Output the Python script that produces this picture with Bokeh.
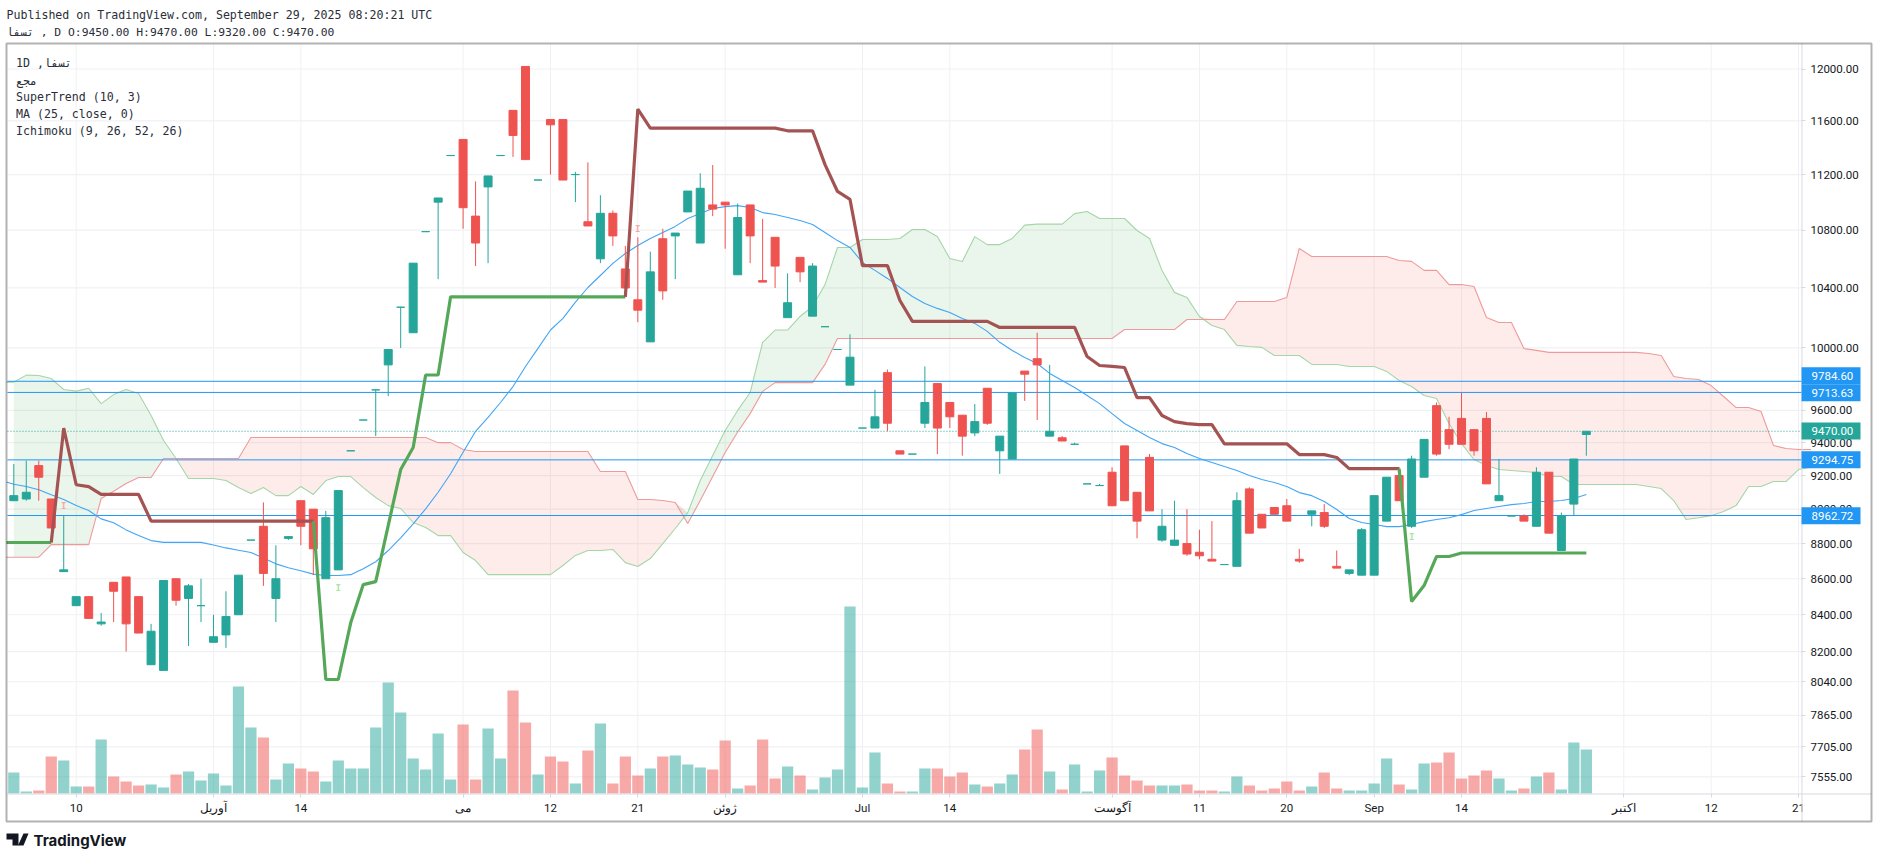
import numpy as np
from bokeh.core.properties import value
from bokeh.embed import file_html
from bokeh.models import (BoxAnnotation, FixedTicker, Label, LinearAxis, LinearScale, LogAxis,
                          NumeralTickFormatter, PolyAnnotation, Range1d)
from bokeh.plotting import figure
from bokeh.resources import INLINE

# candles, one per session (index 0 is the first bar on the left)
opens = [9050, 9060, 9260, 9060, 8640, 8450, 8500, 8350, 8580, 8610,
         8500, 8130, 8100, 8600, 8490, 8450, 8250, 8290, 8400, 8820,
         8900, 8490, 8830, 9050, 9000, 8600, 8650, 9350, 9540, 9730,
         9890, 10270, 10100, 10790, 11000, 11340, 11460, 10900, 11110, 11340,
         11680, 12020, 11160, 11610, 11610, 11200, 10860, 10600, 10920, 10530,
         10320, 10040, 10740, 10760, 10930, 10710, 10980, 11000, 10490, 10980,
         10450, 10750, 10200, 10610, 10210, 10140, 9990, 9760, 9490, 9490,
         9840, 9350, 9330, 9520, 9770, 9650, 9570, 9460, 9740, 9350,
         9300, 9850, 9930, 9440, 9430, 9390, 9150, 9140, 9220, 9380,
         9100, 9310, 8820, 8790, 8800, 8750, 8710, 8680, 8670, 9120,
         8970, 9010, 9020, 8710, 8970, 8980, 8670, 8630, 8620, 8620,
         8930, 9200, 8900, 9190, 9630, 9480, 9550, 9480, 9550, 9050,
         8960, 8960, 8900, 9220, 8760, 9030, 9450]
highs = [9270, 9290, 9290, 9060, 8960, 8500, 8500, 8410, 8580, 8610,
         8500, 8350, 8590, 8600, 8570, 8600, 8400, 8530, 8620, 8820,
         9040, 8790, 8840, 9050, 9000, 8990, 9110, 9350, 9540, 9730,
         9990, 10270, 10570, 10790, 11030, 11340, 11460, 11150, 11190, 11340,
         11680, 12020, 11160, 11610, 11610, 11220, 11290, 11050, 10940, 10690,
         10750, 10650, 10810, 10780, 11080, 11210, 11270, 11000, 10990, 10980,
         10880, 10750, 10500, 10610, 10570, 10140, 9990, 10090, 9490, 9730,
         9860, 9350, 9330, 9880, 9770, 9650, 9570, 9640, 9740, 9440,
         9710, 9850, 10100, 9890, 9440, 9400, 9150, 9150, 9250, 9380,
         9100, 9330, 9000, 9050, 9000, 8880, 8930, 8680, 9100, 9130,
         8970, 9010, 9060, 8770, 8990, 9030, 8760, 8650, 8890, 9080,
         9190, 9250, 9320, 9420, 9650, 9560, 9710, 9480, 9590, 9300,
         8960, 8970, 9250, 9220, 8980, 9300, 9470]
lows = [9050, 9050, 9050, 8890, 8640, 8450, 8380, 8340, 8360, 8200,
        8300, 8130, 8100, 8450, 8230, 8360, 8250, 8220, 8400, 8820,
        8560, 8360, 8820, 8790, 8620, 8600, 8650, 9350, 9540, 9440,
        9690, 10000, 10100, 10790, 10460, 11340, 10810, 10550, 10570, 11340,
        11330, 11310, 11160, 11200, 11160, 11000, 10830, 10570, 10690, 10400,
        10170, 10040, 10320, 10460, 10930, 10710, 10900, 10670, 10490, 10570,
        10440, 10400, 10200, 10440, 10210, 10140, 9990, 9760, 9490, 9490,
        9470, 9330, 9330, 9490, 9330, 9490, 9320, 9440, 9510, 9210,
        9300, 9660, 9540, 9440, 9410, 9390, 9150, 9140, 9020, 9050,
        8830, 8990, 8810, 8790, 8730, 8710, 8700, 8680, 8670, 8860,
        8890, 8970, 8930, 8690, 8900, 8890, 8660, 8620, 8620, 8620,
        8930, 9050, 8890, 9190, 9320, 9360, 9390, 9320, 9150, 9050,
        8960, 8930, 8900, 8860, 8760, 8960, 9320]
closes = [9080, 9100, 9190, 8890, 8650, 8500, 8380, 8360, 8530, 8350,
          8300, 8310, 8590, 8480, 8560, 8450, 8280, 8390, 8620, 8820,
          8630, 8600, 8840, 8900, 8770, 8950, 9110, 9350, 9540, 9730,
          9990, 10270, 10570, 10790, 11030, 11340, 10960, 10710, 11190, 11340,
          11490, 11310, 11160, 11570, 11160, 11200, 10830, 10920, 10760, 10400,
          10250, 10510, 10380, 10780, 11080, 11100, 10950, 10980, 10890, 10760,
          10440, 10550, 10300, 10510, 10550, 10140, 9990, 9940, 9490, 9560,
          9520, 9330, 9330, 9650, 9490, 9560, 9440, 9530, 9520, 9440,
          9710, 9830, 9890, 9470, 9410, 9390, 9150, 9140, 9020, 9050,
          8930, 8990, 8900, 8820, 8740, 8730, 8700, 8680, 9050, 8860,
          8890, 8970, 8930, 8700, 8990, 8900, 8660, 8650, 8880, 9080,
          9190, 9050, 9300, 9420, 9330, 9390, 9390, 9350, 9150, 9080,
          8960, 8930, 9220, 8860, 8960, 9300, 9470]

# volume has no scale on the chart, these are relative heights
volumes = [21, 2, 3, 37, 33, 7, 7, 54, 17, 12,
           8, 9, 6, 19, 22, 13, 20, 8, 107, 66,
           56, 14, 30, 25, 22, 12, 33, 25, 25, 66,
           111, 81, 35, 24, 60, 14, 69, 14, 65, 35,
           103, 71, 19, 37, 32, 10, 43, 70, 10, 37,
           18, 25, 37, 38, 29, 26, 24, 53, 5, 8,
           54, 15, 27, 18, 4, 16, 24, 187, 6, 41,
           10, 2, 2, 25, 25, 17, 21, 9, 7, 10,
           19, 44, 64, 22, 4, 29, 2, 23, 36, 18,
           13, 8, 8, 8, 9, 3, 3, 2, 17, 8,
           3, 5, 12, 3, 7, 21, 5, 3, 3, 10,
           35, 9, 4, 30, 31, 41, 15, 18, 23, 15,
           3, 5, 17, 21, 4, 51, 44]

# these start one bar before the first candle, off the left edge
supertrend = [8806,
              8806, 8806, 8806, 8806, 9490, 9145, 9134, 9087, 9087, 9087,
              9087, 8930, 8930, 8930, 8930, 8930, 8930, 8930, 8930, 8930,
              8930, 8930, 8930, 8930, 8930, 8052, 8052, 8357, 8567, 8584,
              8904, 9236, 9370, 9825, 9825, 10340, 10340, 10340, 10340, 10340,
              10340, 10340, 10340, 10340, 10340, 10340, 10340, 10340, 10340, 10340,
              11690, 11545, 11545, 11545, 11545, 11545, 11545, 11545, 11545, 11545,
              11545, 11545, 11525, 11525, 11525, 11273, 11077, 11020, 10553, 10553,
              10553, 10315, 10175, 10175, 10175, 10175, 10175, 10175, 10175, 10135,
              10135, 10135, 10135, 10135, 10135, 10135, 9944, 9886, 9880, 9873,
              9681, 9681, 9568, 9530, 9518, 9511, 9511, 9393, 9393, 9393,
              9393, 9393, 9393, 9327, 9327, 9327, 9309, 9242, 9242, 9242,
              9242, 9242, 8473, 8562, 8726, 8726, 8746, 8746, 8746, 8746,
              8746, 8746, 8746, 8746, 8746, 8746, 8746]
# bars where the trend flips, first run is up
supertrend_flips = [3, 24, 49, 111]

ma25 = [9170,
        9148, 9134, 9115, 9085, 9057, 9021, 8992, 8943, 8920, 8879,
        8846, 8817, 8807, 8807, 8807, 8807, 8792, 8775, 8762, 8749,
        8718, 8684, 8662, 8645, 8626, 8618, 8618, 8623, 8656, 8696,
        8760, 8833, 8914, 9002, 9100, 9211, 9341, 9470, 9556, 9650,
        9751, 9880, 9997, 10118, 10195, 10304, 10403, 10485, 10568, 10637,
        10693, 10742, 10784, 10827, 10883, 10918, 10954, 10968, 10975, 10961,
        10925, 10911, 10890, 10869, 10841, 10784, 10727, 10679, 10575, 10520,
        10465, 10403, 10342, 10295, 10262, 10235, 10195, 10162, 10109, 10037,
        9984, 9938, 9899, 9835, 9790, 9745, 9694, 9643, 9580, 9518,
        9475, 9432, 9394, 9370, 9333, 9303, 9279, 9254, 9230, 9200,
        9176, 9158, 9134, 9098, 9080, 9045, 8998, 8945, 8922, 8910,
        8898, 8898, 8910, 8927, 8939, 8950, 8968, 8992, 9004, 9016,
        9027, 9033, 9045, 9045, 9051, 9063, 9087]

# cloud runs 26 bars past the last candle and off the right side of the pane
span_a = [9779,
          9779, 9824, 9822, 9802, 9732, 9722, 9740, 9643, 9700, 9732,
          9707, 9568, 9413, 9303, 9182, 9182, 9182, 9170, 9128, 9092,
          9128, 9080, 9080, 9134, 9087, 9170, 9194, 9194, 9128, 9069,
          9021, 9004, 8922, 8893, 8846, 8846, 8749, 8703, 8623, 8623,
          8623, 8623, 8623, 8623, 8675, 8732, 8760, 8760, 8766, 8691,
          8669, 8714, 8800, 8887, 8980, 9170, 9321, 9475, 9600, 9713,
          10037, 10118, 10118, 10208, 10275, 10423, 10679, 10679, 10735, 10735,
          10735, 10742, 10805, 10805, 10755, 10602, 10582, 10755, 10699, 10699,
          10742, 10836, 10843, 10843, 10843, 10918, 10933, 10883, 10883, 10883,
          10798, 10742, 10520, 10370, 10336, 10208, 10148, 10121, 10017, 10010,
          10004, 9951, 9951, 9951, 9893, 9893, 9893, 9880, 9880, 9880,
          9848, 9790, 9751, 9694, 9675, 9518, 9394, 9297, 9260, 9236,
          9230, 9224, 9218, 9194, 9194, 9146, 9146, 9146, 9146, 9146,
          9146, 9134, 9122, 9051, 8939, 8950, 8962, 8986, 9021, 9134,
          9134, 9164, 9164, 9236, 9250]
span_b = [8722,
          8722, 8722, 8722, 8794, 8794, 8794, 8794, 9063, 9106, 9152,
          9188, 9188, 9303, 9303, 9303, 9303, 9303, 9303, 9303, 9432,
          9432, 9432, 9432, 9432, 9432, 9432, 9432, 9432, 9432, 9432,
          9432, 9432, 9432, 9432, 9400, 9400, 9358, 9346, 9346, 9346,
          9346, 9346, 9346, 9346, 9346, 9346, 9346, 9224, 9224, 9224,
          9057, 9057, 9051, 9039, 8916, 9051, 9194, 9340, 9466, 9580,
          9720, 9776, 9776, 9776, 9776, 9893, 10062, 10062, 10062, 10062,
          10062, 10062, 10062, 10062, 10062, 10062, 10062, 10062, 10062, 10062,
          10062, 10062, 10062, 10062, 10062, 10062, 10062, 10062, 10062, 10121,
          10121, 10121, 10121, 10121, 10188, 10188, 10188, 10188, 10308, 10308,
          10308, 10308, 10336, 10672, 10616, 10616, 10616, 10616, 10616, 10616,
          10616, 10588, 10582, 10520, 10520, 10423, 10423, 10410, 10201, 10168,
          10168, 9996, 9984, 9971, 9971, 9971, 9971, 9971, 9971, 9971,
          9971, 9964, 9951, 9815, 9802, 9796, 9757, 9688, 9618, 9618,
          9593, 9382, 9364, 9358, 9358]

# small "I" flags from supertrend
sell_flag_bars = [4, 50]
sell_flag_prices = [9016, 10812]
buy_flag_bars = [26, 112]
buy_flag_prices = [8547, 8836]

alert_levels = [9784.60, 9713.63, 9294.75, 8962.72]
last_price = 9470.00

price_ticks = [12000, 11600, 11200, 10800, 10400, 10000, 9600, 9400, 9200, 9000,
               8800, 8600, 8400, 8200, 8040, 7865, 7705, 7555]
time_ticks = [5, 16, 23, 36, 43, 50, 57, 68, 75, 88, 95, 102, 109, 116, 129, 136, 143]
time_labels = ["10", "آوریل", "14", "می", "12", "21", "ژوئن", "Jul", "14", "آگوست",
               "11", "20", "Sep", "14", "اکتبر", "12", "21"]

header_top = "Published on TradingView.com, September 29, 2025 08:20:21 UTC"
header_ohlc = "تسفا , D O:9450.00 H:9470.00 L:9320.00 C:9470.00"
legend_lines = ["1D ,تسفا", "مجع", "SuperTrend (10, 3)", "MA (25, close, 0)", "Ichimoku (9, 26, 52, 26)"]

UP = "#26A69A"
DOWN = "#EF5350"
BLUE = "#2196F3"
GRID = "#F0F1F4"
EDGE = "#D6D9E0"
MONO = "DejaVu Sans Mono"

# the frame fills the page so text outside the price pane is not clipped,
# the pane itself runs from bar -0.50 to 143.24 and price 12194 down to 7473.6
PANE_LEFT, PANE_RIGHT = -0.505, 143.24
PANE_TOP, PANE_BOTTOM = 12194, 7473.6

bars = list(range(len(closes)))
line_bars = list(range(-1, len(closes)))
cloud_bars = list(range(-1, len(span_a) - 1))
candle_colors = [UP if c >= o else DOWN for o, c in zip(opens, closes)]

p = figure(width=1878, height=858, output_backend="svg", toolbar_location=None,
           y_axis_type="log", x_axis_location=None, y_axis_location=None,
           x_range=Range1d(-1.0657, 149.41), y_range=Range1d(7162.9, 12549.5),
           min_border=0)
p.outline_line_color = None
p.background_fill_color = "white"
p.border_fill_color = "white"
p.grid.visible = False

p.extra_y_ranges = {"volume": Range1d(-65, 793)}
p.extra_y_scales = {"volume": LinearScale()}

xaxis = LinearAxis(ticker=FixedTicker(ticks=time_ticks), major_label_overrides=dict(zip(time_ticks, time_labels)),
                   fixed_location=PANE_BOTTOM)
yaxis = LogAxis(ticker=FixedTicker(ticks=price_ticks), formatter=NumeralTickFormatter(format="0.00"),
                fixed_location=PANE_RIGHT)
p.add_layout(xaxis, "below")
p.add_layout(yaxis, "right")
for ax in [xaxis, yaxis]:
    ax.major_label_text_font = "Roboto"
    ax.major_label_text_font_size = "11.5px"
    ax.major_label_text_color = "#131722"
    ax.axis_line_color = None
    ax.major_tick_line_color = EDGE
    ax.major_tick_in = 0
    ax.major_tick_out = 4
    ax.minor_tick_line_color = None
xaxis.major_label_standoff = 3
yaxis.major_label_standoff = 5

# grid lines stop at the pane edges
p.segment(x0=[PANE_LEFT] * len(price_ticks), y0=price_ticks, x1=[PANE_RIGHT] * len(price_ticks), y1=price_ticks,
          line_color=GRID, line_width=1.2)
p.segment(x0=time_ticks, y0=[PANE_BOTTOM] * len(time_ticks), x1=time_ticks, y1=[PANE_TOP] * len(time_ticks),
          line_color=GRID, line_width=1)

# volume
p.vbar(x=bars, top=volumes, bottom=0, width=0.9, y_range_name="volume",
       color=candle_colors, fill_alpha=0.5, line_alpha=0)

# ichimoku cloud, fill starts at the first real bar
a = np.array(span_a[1:], dtype=float)
b = np.array(span_b[1:], dtype=float)
fill_bars = cloud_bars[1:]
p.varea(x=fill_bars, y1=b, y2=np.maximum(a, b), fill_color="#43A047", fill_alpha=0.11)
p.varea(x=fill_bars, y1=a, y2=np.maximum(a, b), fill_color="#F44336", fill_alpha=0.10)
p.line(cloud_bars, span_a, line_color="#A5D6A7", line_width=1.1)
p.line(cloud_bars, span_b, line_color="#EF9A9A", line_width=1.1)

p.segment(x0=[PANE_LEFT] * 4, y0=alert_levels, x1=[PANE_RIGHT] * 4, y1=alert_levels, line_color=BLUE, line_width=1)
last_line = p.segment(x0=[PANE_LEFT], y0=[last_price], x1=[PANE_RIGHT], y1=[last_price], line_color=UP, line_width=1)
last_line.glyph.line_dash = [1, 2]

p.line(line_bars, ma25, line_color="#42A5F5", line_width=1.1)

# candles
p.segment(x0=bars, y0=lows, x1=bars, y1=highs, line_color=candle_colors, line_width=1)
p.vbar(x=bars, top=opens, bottom=closes, width=0.64, fill_color=candle_colors, line_color=candle_colors)

# supertrend, colour changes on each flip
edges = [-1] + supertrend_flips + [bars[-1]]
for n in range(len(edges) - 1):
    s, e = edges[n] + 1, edges[n + 1] + 1
    color = "#55A858" if n % 2 == 0 else "#A45353"
    p.line(line_bars[s:e + 1], supertrend[s:e + 1], line_color=color, line_width=3.2)

p.text(x=sell_flag_bars, y=sell_flag_prices, text=["I"] * 2, text_color="#F7A9A7", text_font=value(MONO),
       text_font_style="bold", text_font_size="9px", text_align="center", text_baseline="middle")
p.text(x=buy_flag_bars, y=buy_flag_prices, text=["I"] * 2, text_color="#A5E6A0", text_font=value(MONO),
       text_font_style="bold", text_font_size="9px", text_align="center", text_baseline="middle")


def canvas_label(x, y, text, size="11.6px", font=MONO, color="#2A2E39", style="normal"):
    p.add_layout(Label(x=x, y=y, x_units="canvas", y_units="canvas", text=text, text_font=font,
                       text_font_size=size, text_color=color, text_font_style=style,
                       text_baseline="middle"))


def canvas_box(left, right, top, bottom, **kw):
    p.add_layout(BoxAnnotation(left=left, right=right, top=top, bottom=bottom, left_units="canvas",
                               right_units="canvas", top_units="canvas", bottom_units="canvas", **kw))


# white covers: left of the border, and the last time label gets cut at the price axis
canvas_box(0, 6, 0, 858, fill_color="white", fill_alpha=1, line_alpha=0)
canvas_box(1802, 1870, 795, 820, fill_color="white", fill_alpha=1, line_alpha=0)
# axis strip lines
canvas_box(1801, 1802, 43, 821, fill_color=EDGE, fill_alpha=1, line_alpha=0)
canvas_box(7, 1871, 793, 794, fill_color=EDGE, fill_alpha=1, line_alpha=0)
# outer frame
canvas_box(6, 1871, 43, 821, fill_alpha=0, line_color="black", line_width=2)

canvas_label(6, 14, header_top)
canvas_label(6, 31.5, header_ohlc, size="11.35px")
for line, y in zip(legend_lines, [62, 80, 96.5, 113.5, 130.5]):
    canvas_label(15.5, y, line)

# price tags on the axis, the top one sits a little above its line
tag_prices = alert_levels + [last_price]
tag_colors = [BLUE, BLUE, BLUE, BLUE, UP]
tag_tops = [366.7, 383.7, 450.7, 506.7, 422]
tag_offsets = [5.4, -0.6, 0, 0, 0]
for price, color, top, off in zip(tag_prices, tag_colors, tag_tops, tag_offsets):
    canvas_box(1801, 1860, top, top + 17, fill_color=color, fill_alpha=1, line_alpha=0)
    p.add_layout(Label(x=1811, y=price, x_units="canvas", y_units="data", y_offset=off, text=f"{price:.2f}",
                       text_font="Roboto", text_font_size="11.5px", text_color="white", text_baseline="middle"))

# logo at the bottom
p.add_layout(PolyAnnotation(xs=[6, 18, 18, 12, 12, 6], ys=[833, 833, 845, 845, 839, 839], xs_units="canvas",
                            ys_units="canvas", fill_color="#131722", fill_alpha=1, line_alpha=0))
p.add_layout(PolyAnnotation(xs=[23, 28, 23, 17.5], ys=[833, 833, 845, 845], xs_units="canvas",
                            ys_units="canvas", fill_color="#131722", fill_alpha=1, line_alpha=0))
canvas_label(33, 839.5, "TradingView", size="15px", font="Inter", color="#131722", style="bold")

open("out.html", "w").write(file_html(p, INLINE))
